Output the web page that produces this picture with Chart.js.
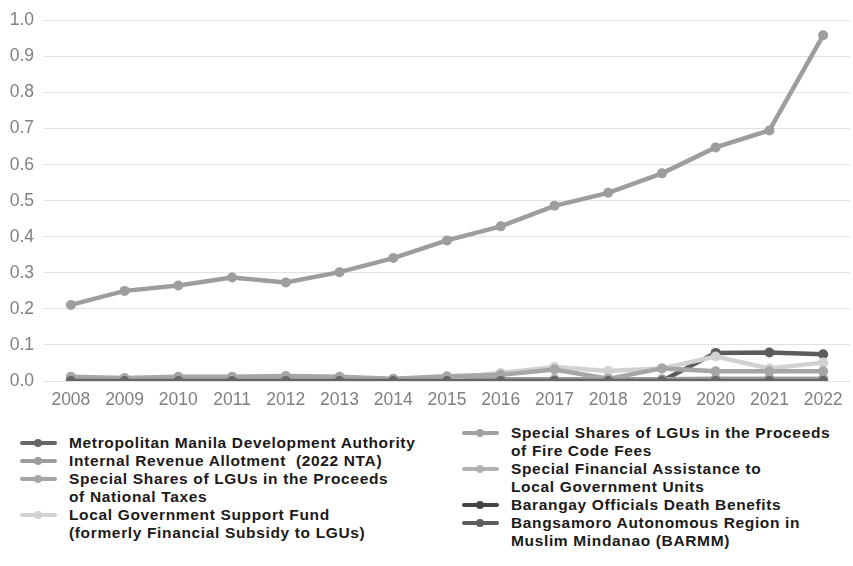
<!DOCTYPE html>
<html>
<head>
<meta charset="utf-8">
<script src="https://cdn.jsdelivr.net/npm/chart.js@4.4.1/dist/chart.umd.min.js"></script>
<style>
  html, body { margin: 0; padding: 0; background: #fff; overflow: hidden; }
  #wrap { position: relative; width: 855px; height: 566px; }
  #chartBox { position: absolute; left: 0; top: 0; width: 855px; height: 412px; }
  .legend-col { position: absolute; margin: 0; padding: 0; list-style: none; }
  .legend-col li { display: flex; align-items: flex-start; }
  .legend-col .mark { position: relative; width: 37px; height: 18px; flex: none; margin-right: 12px; }
  .legend-col .mark .bar { position: absolute; left: 0; right: 0; top: 7px; height: 4px; border-radius: 2px; }
  .legend-col .mark .dot { position: absolute; left: 14px; top: 5px; width: 8px; height: 8px; border-radius: 50%; }
  .legend-col .txt { font-family: "Liberation Sans", Arial, sans-serif; font-weight: bold; font-size: 15.5px; letter-spacing: 0.65px; line-height: 18px; color: #1a1a1a; white-space: pre; }
</style>
</head>
<body>
<div id="wrap">
  <div id="chartBox"><canvas id="fundChart"></canvas></div>
  <ul class="legend-col" id="legendLeft" style="left:20px; top:434px;"></ul>
  <ul class="legend-col" id="legendRight" style="left:462px; top:424px;"></ul>
</div>
<script>
// fiscal years
const years = ['2008', '2009', '2010', '2011', '2012', '2013', '2014', '2015', '2016', '2017', '2018', '2019', '2020', '2021', '2022'];

// shares per year, one array per fund
const mmda      = [0, 0, 0, 0, 0, 0, 0, 0, 0, 0, 0, 0, 0, 0, 0];
const ira       = [0.211, 0.250, 0.265, 0.287, 0.273, 0.302, 0.341, 0.390, 0.429, 0.486, 0.522, 0.576, 0.648, 0.695, 0.959];
const natTaxes  = [0.012, 0.008, 0.012, 0.012, 0.014, 0.012, 0.006, 0.013, 0.017, 0.032, 0.006, 0.035, 0.027, 0.027, 0.027];
const lgsf      = [0, 0, 0, 0, 0, 0, 0, 0.008, 0.022, 0.039, 0.028, 0.035, 0.068, 0.035, 0.051];
const fireCode  = [0.004, 0.004, 0.004, 0.004, 0.004, 0.004, 0.004, 0.004, 0.005, 0.005, 0.005, 0.005, 0.006, 0.006, 0.006];
const sfa       = [0, 0, 0, 0, 0, 0, 0, 0, 0.001, 0.001, 0.001, 0.001, 0.003, 0.003, 0.003];
const barangay  = [0, 0, 0, 0, 0, 0, 0, 0, 0, 0, 0, 0, 0.001, 0.001, 0.001];
const barmm     = [0, 0, 0, 0, 0, 0, 0, 0, 0, 0, 0, 0, 0.078, 0.079, 0.074];

// y axis ticks
const yTicks = [0, 0.1, 0.2, 0.3, 0.4, 0.5, 0.6, 0.7, 0.8, 0.9, 1.0];

const seriesNames = [
  ['Metropolitan Manila Development Authority'],
  ['Internal Revenue Allotment  (2022 NTA)'],
  ['Special Shares of LGUs in the Proceeds', 'of National Taxes'],
  ['Local Government Support Fund', '(formerly Financial Subsidy to LGUs)'],
  ['Special Shares of LGUs in the Proceeds', 'of Fire Code Fees'],
  ['Special Financial Assistance to', 'Local Government Units'],
  ['Barangay Officials Death Benefits'],
  ['Bangsamoro Autonomous Region in', 'Muslim Mindanao (BARMM)']
];
const seriesData = [mmda, ira, natTaxes, lgsf, fireCode, sfa, barangay, barmm];
const seriesColors = ['#666666', '#9d9d9d', '#a6a6a6', '#d2d2d2', '#a0a0a0', '#b2b2b2', '#444444', '#5c5c5c'];

const datasets = seriesData.map((d, i) => ({
  label: seriesNames[i].join(' '),
  data: d,
  borderColor: seriesColors[i],
  backgroundColor: seriesColors[i],
  borderWidth: 4.5,
  pointRadius: 5,
  pointBorderWidth: 0,
  pointHoverRadius: 5,
  tension: 0
}));

// html legend in two columns
const htmlLegend = {
  id: 'htmlLegend',
  afterUpdate(chart) {
    const left = document.getElementById('legendLeft');
    const right = document.getElementById('legendRight');
    left.innerHTML = '';
    right.innerHTML = '';
    chart.data.datasets.forEach((ds, i) => {
      const li = document.createElement('li');
      const mark = document.createElement('span');
      mark.className = 'mark';
      mark.innerHTML = `<span class="bar" style="background:${ds.borderColor}"></span><span class="dot" style="background:${ds.borderColor}"></span>`;
      const txt = document.createElement('span');
      txt.className = 'txt';
      txt.textContent = seriesNames[i].join('\n');
      li.appendChild(mark);
      li.appendChild(txt);
      (i < 4 ? left : right).appendChild(li);
    });
  }
};

new Chart(document.getElementById('fundChart'), {
  type: 'line',
  data: { labels: years, datasets },
  options: {
    responsive: true,
    maintainAspectRatio: false,
    animation: false,
    layout: { padding: { top: 1, right: 0, left: 0, bottom: 0 } },
    plugins: {
      legend: { display: false },
      tooltip: { enabled: false }
    },
    scales: {
      x: {
        offset: true,
        grid: { display: false },
        border: { display: false },
        ticks: {
          color: '#808080',
          padding: 1,
          maxRotation: 0,
          font: { family: '"Liberation Sans", Arial, sans-serif', size: 17.5 }
        }
      },
      y: {
        min: 0,
        max: 1,
        afterBuildTicks: scale => { scale.ticks = yTicks.map(v => ({ value: v })); },
        afterFit: scale => { scale.width = 44; },
        grid: { color: '#e2e2e2', lineWidth: 1, drawTicks: false },
        border: { display: false },
        ticks: {
          color: '#808080',
          padding: 10,
          callback: v => v.toFixed(1),
          font: { family: '"Liberation Sans", Arial, sans-serif', size: 17.5 }
        }
      }
    }
  },
  plugins: [htmlLegend]
});
</script>
</body>
</html>
